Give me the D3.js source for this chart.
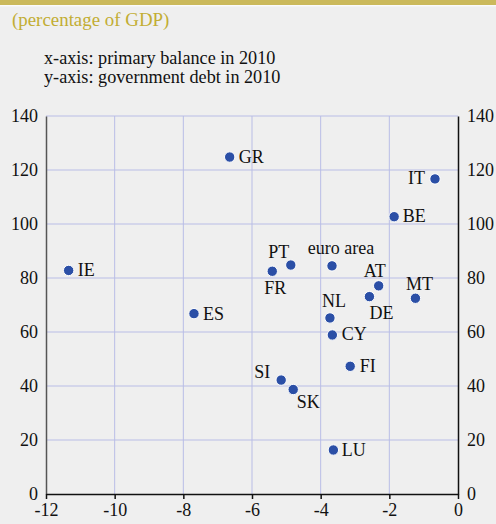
<!DOCTYPE html>
<html>
<head>
<meta charset="utf-8">
<script src="https://cdn.jsdelivr.net/npm/d3@7"></script>
<style>
  body { margin: 0; background: #efefef; }
  svg { display: block; font-family: "Liberation Serif", "Times New Roman", serif; }
</style>
</head>
<body>
<svg id="chart"></svg>
<script>
// data: primary balance (x) and government debt (y), 2010
const countries = ["GR", "IE", "ES", "IT", "BE", "PT", "FR", "euro area", "AT", "DE", "MT", "NL", "CY", "FI", "SI", "SK", "LU"];
const primaryBalance = [-6.65, -11.34, -7.69, -0.67, -1.86, -4.87, -5.41, -3.67, -2.31, -2.58, -1.24, -3.73, -3.66, -3.14, -5.15, -4.80, -3.63];
const govDebt = [124.8, 82.8, 66.8, 116.7, 102.7, 84.8, 82.5, 84.5, 77.1, 73.1, 72.5, 65.2, 58.9, 47.3, 42.2, 38.7, 16.3];
const xTicks = [-12, -10, -8, -6, -4, -2, 0];
const yTicks = [0, 20, 40, 60, 80, 100, 120, 140];

// label placement relative to each dot: [dx, dy, anchor]
const labelOffset = {
  "GR": [9, 6, "start"], "IE": [9, 5.5, "start"], "ES": [9, 6, "start"], "BE": [8.5, 5, "start"],
  "CY": [9.5, 5.5, "start"], "FI": [9.5, 5.5, "start"], "LU": [8.5, 6, "start"],
  "IT": [-10, 5, "end"],
  "PT": [-12, -7.5, "middle"], "euro area": [9, -11.5, "middle"], "AT": [-4, -9, "middle"],
  "MT": [4, -8.5, "middle"], "NL": [4, -10.5, "middle"],
  "FR": [3, 22.5, "middle"], "DE": [12, 22.5, "middle"], "SK": [15, 18, "middle"],
  "SI": [-11, -2.5, "end"]
};

const width = 496, height = 524;
const margin = { top: 116, right: 38, bottom: 30, left: 46 };

const points = countries.map((c, i) => ({ name: c, x: primaryBalance[i], y: govDebt[i] }));

const svg = d3.select("#chart").attr("width", width).attr("height", height);

// top gold band
svg.append("rect").attr("x", 0).attr("y", 0).attr("width", width).attr("height", 5).attr("fill", "#cbb95b");
svg.append("rect").attr("x", 0).attr("y", 5).attr("width", width).attr("height", 1.5).attr("fill", "#fafafa");

svg.append("text").attr("x", 12).attr("y", 26)
  .attr("fill", "#c2ad33").attr("font-size", 18.9).text("(percentage of GDP)");
svg.append("text").attr("x", 44).attr("y", 64)
  .attr("fill", "#111").attr("font-size", 18.2).text("x-axis: primary balance in 2010");
svg.append("text").attr("x", 44).attr("y", 82.5)
  .attr("fill", "#111").attr("font-size", 18.2).text("y-axis: government debt in 2010");

const x = d3.scaleLinear().domain([-12, 0]).range([margin.left, width - margin.right]);
const y = d3.scaleLinear().domain([0, 140]).range([height - margin.bottom, margin.top]);

// grid
const grid = svg.append("g").attr("stroke", "#b9bde6").attr("stroke-width", 1);
grid.selectAll("line.h").data(yTicks.filter(d => d > 0)).join("line")
  .attr("x1", x(-12)).attr("x2", x(0)).attr("y1", d => y(d)).attr("y2", d => y(d));
grid.selectAll("line.v").data(xTicks.filter(d => d > -12 && d < 0)).join("line")
  .attr("y1", y(0)).attr("y2", y(140)).attr("x1", d => x(d)).attr("x2", d => x(d));

const fmt = d => String(d); // plain hyphen minus, like the original

// left axis
svg.append("g").attr("transform", `translate(${margin.left},0)`)
  .call(d3.axisLeft(y).tickValues(yTicks).tickFormat(fmt).tickSize(0).tickPadding(8))
  .call(g => g.select(".domain").attr("stroke", "#555").attr("stroke-width", 1.5))
  .call(g => g.selectAll("text").attr("font-size", 18).attr("fill", "#111").attr("font-family", "Liberation Serif"));

// right axis
svg.append("g").attr("transform", `translate(${width - margin.right},0)`)
  .call(d3.axisRight(y).tickValues(yTicks).tickFormat(fmt).tickSize(0).tickPadding(9))
  .call(g => g.select(".domain").attr("stroke", "#111").attr("stroke-width", 1.5))
  .call(g => g.selectAll("text").attr("font-size", 18).attr("fill", "#111").attr("font-family", "Liberation Serif"));

// bottom axis
svg.append("g").attr("transform", `translate(0,${y(0)})`)
  .call(d3.axisBottom(x).tickValues(xTicks).tickFormat(fmt).tickSize(5).tickSizeOuter(0).tickPadding(4))
  .call(g => g.select(".domain").attr("stroke", "#111").attr("stroke-width", 1.5))
  .call(g => g.selectAll(".tick line").attr("stroke", "#111").attr("stroke-width", 1.5))
  .call(g => g.selectAll("text").attr("font-size", 18).attr("fill", "#111").attr("font-family", "Liberation Serif"));

// dots
svg.append("g").selectAll("circle").data(points).join("circle")
  .attr("cx", d => x(d.x)).attr("cy", d => y(d.y)).attr("r", 5.2)
  .attr("fill", "#2b4fa6").attr("stroke", "#fff").attr("stroke-width", 1);

// labels
svg.append("g").selectAll("text").data(points).join("text")
  .attr("x", d => x(d.x) + labelOffset[d.name][0])
  .attr("y", d => y(d.y) + labelOffset[d.name][1])
  .attr("text-anchor", d => labelOffset[d.name][2])
  .attr("font-size", 18).attr("fill", "#111")
  .text(d => d.name);
</script>
</body>
</html>
